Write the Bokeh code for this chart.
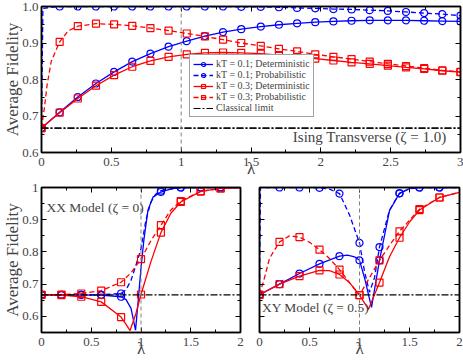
from bokeh.plotting import figure
from bokeh.layouts import column, row
from bokeh.models import (Span, Label, Legend, LegendItem, LinearAxis,
                          SingleIntervalTicker, CustomJSTickFormatter)
from bokeh.embed import file_html
from bokeh.resources import INLINE

BLUE = "#0000ff"
RED = "#ff0000"
FONT = "Liberation Serif"
CLASSICAL = 2.0 / 3.0
CRITICAL = 1.0

# ---------------- top panel: Ising transverse (zeta = 1.0) ----------------
X_TOP = [0, 0.13, 0.26, 0.39, 0.52, 0.65, 0.78, 0.91, 1.04, 1.17, 1.30, 1.43,
         1.57, 1.70, 1.83, 1.96, 2.09, 2.22, 2.35, 2.48, 2.61, 2.74, 2.87, 3.0]
TOP_DET01 = [0.667, 0.710, 0.752, 0.789, 0.821, 0.849, 0.871, 0.890, 0.905, 0.919, 0.930, 0.938,
             0.945, 0.950, 0.954, 0.957, 0.959, 0.961, 0.962, 0.962, 0.962, 0.961, 0.960, 0.959]
TOP_PROB01 = [0.667, 1.0, 1.0, 1.0, 1.0, 1.0, 1.0, 1.0, 1.0, 1.0, 1.0, 0.999,
              0.999, 0.998, 0.996, 0.995, 0.993, 0.992, 0.990, 0.988, 0.985, 0.982, 0.979, 0.975]
TOP_DET03 = [0.667, 0.709, 0.748, 0.783, 0.812, 0.835, 0.851, 0.862, 0.869, 0.873, 0.874, 0.873,
             0.871, 0.867, 0.862, 0.857, 0.852, 0.847, 0.843, 0.838, 0.833, 0.829, 0.824, 0.820]
TOP_PROB03 = [0.667, 0.903, 0.946, 0.953, 0.951, 0.947, 0.941, 0.934, 0.926, 0.918, 0.909, 0.900,
              0.892, 0.884, 0.877, 0.869, 0.862, 0.856, 0.849, 0.843, 0.837, 0.831, 0.825, 0.821]
# extra curve points read near lambda = 0 (the curves rise steeply there)
TOP_PROB01_EXTRA_X = [0.01]
TOP_PROB01_EXTRA_Y = [0.995]
TOP_PROB03_EXTRA_X = [0.02, 0.04, 0.07]
TOP_PROB03_EXTRA_Y = [0.72, 0.785, 0.85]
TOP_PROB03_EXTRA2_X = [0.19]
TOP_PROB03_EXTRA2_Y = [0.933]

# ---------------- bottom left: XX model (zeta = 0) ----------------
BL_M_X = [0, 0.2, 0.4, 0.6, 0.8, 1.2, 1.4, 1.6, 1.8]
BL_M_DET01 = [0.667, 0.667, 0.667, 0.666, 0.661, 0.986, 1.0, 1.0, 1.0]
BL_M_PROB01 = [0.667, 0.667, 0.667, 0.667, 0.671, 0.990, 1.0, 1.0, 1.0]
BL_M3_X = [0, 0.2, 0.4, 0.6, 0.8, 1.0, 1.2, 1.4, 1.6, 1.8]
BL_M_DET03 = [0.667, 0.666, 0.661, 0.645, 0.598, 0.668, 0.860, 0.955, 0.988, 0.997]
BL_M_PROB03 = [0.667, 0.668, 0.671, 0.680, 0.706, 0.778, 0.883, 0.958, 0.988, 0.997]

BL_L_DET01_X = [0, 0.6, 0.8, 0.85, 0.9, 0.93, 0.945, 0.975, 1.0, 1.03, 1.07, 1.12, 1.2, 1.3, 1.4, 2.0]
BL_L_DET01_Y = [0.667, 0.666, 0.661, 0.652, 0.625, 0.58, 0.557, 0.66, 0.75, 0.84, 0.93, 0.97, 0.986, 0.996, 1.0, 1.0]
BL_L_PROB01_X = [0, 0.6, 0.8, 0.85, 0.9, 0.95, 1.0, 1.05, 1.1, 1.15, 1.2, 1.4, 2.0]
BL_L_PROB01_Y = [0.667, 0.667, 0.671, 0.683, 0.712, 0.76, 0.81, 0.90, 0.955, 0.98, 0.99, 1.0, 1.0]
BL_L_DET03_X = [0, 0.2, 0.4, 0.6, 0.8, 0.85, 0.89, 0.95, 1.0, 1.1, 1.2, 1.3, 1.4, 1.6, 1.8, 2.0]
BL_L_DET03_Y = [0.667, 0.666, 0.661, 0.645, 0.598, 0.575, 0.556, 0.61, 0.668, 0.77, 0.86, 0.92, 0.955, 0.988, 0.997, 1.0]
BL_L_PROB03_X = [0, 0.2, 0.4, 0.6, 0.8, 0.9, 1.0, 1.1, 1.2, 1.3, 1.4, 1.6, 1.8, 2.0]
BL_L_PROB03_Y = [0.667, 0.668, 0.671, 0.680, 0.706, 0.735, 0.778, 0.835, 0.883, 0.93, 0.958, 0.988, 0.997, 1.0]

# ---------------- bottom right: XY model (zeta = 0.5) ----------------
BR_M_X = [0, 0.2, 0.4, 0.6, 0.8, 1.0, 1.2, 1.4, 1.6, 1.8]
BR_M_DET01 = [0.667, 0.700, 0.733, 0.763, 0.787, 0.774, 0.774, 0.982, 1.0, 1.0]
BR_M_PROB01 = [0.667, 1.0, 1.0, 0.999, 0.981, 0.828, 0.815, 0.982, 1.0, 1.0]
BR_M_DET03 = [0.667, 0.700, 0.725, 0.743, 0.730, 0.666, 0.705, 0.844, 0.930, 0.969]
BR_M_PROB03 = [0.667, 0.831, 0.846, 0.807, 0.745, 0.666, 0.774, 0.864, 0.933, 0.969]

BR_L_DET01_X = [0, 0.2, 0.4, 0.6, 0.8, 0.88, 0.95, 1.0, 1.05, 1.12, 1.2, 1.3, 1.4, 1.5, 1.6, 1.8, 2.0]
BR_L_DET01_Y = [0.667, 0.700, 0.733, 0.763, 0.787, 0.790, 0.785, 0.774, 0.72, 0.628, 0.774, 0.928, 0.982, 0.997, 1.0, 1.0, 1.0]
BR_L_PROB01_X = [0, 0.01, 0.2, 0.4, 0.6, 0.7, 0.8, 0.9, 1.0, 1.05, 1.1, 1.15, 1.2, 1.3, 1.4, 1.5, 1.6, 1.8, 2.0]
BR_L_PROB01_Y = [0.667, 1.0, 1.0, 1.0, 0.999, 0.995, 0.981, 0.915, 0.828, 0.74, 0.675, 0.72, 0.815, 0.93, 0.982, 0.996, 1.0, 1.0, 1.0]
BR_L_DET03_X = [0, 0.2, 0.4, 0.6, 0.7, 0.8, 0.9, 1.0, 1.09, 1.2, 1.3, 1.4, 1.5, 1.6, 1.8, 2.0]
BR_L_DET03_Y = [0.667, 0.700, 0.725, 0.743, 0.742, 0.730, 0.705, 0.666, 0.622, 0.705, 0.785, 0.844, 0.893, 0.930, 0.969, 0.985]
BR_L_PROB03_X = [0, 0.05, 0.1, 0.2, 0.3, 0.4, 0.5, 0.6, 0.7, 0.8, 0.9, 1.0, 1.1, 1.2, 1.3, 1.4, 1.6, 1.8, 2.0]
BR_L_PROB03_Y = [0.667, 0.72, 0.78, 0.831, 0.850, 0.846, 0.830, 0.807, 0.780, 0.745, 0.705, 0.666, 0.72, 0.774, 0.82, 0.864, 0.933, 0.969, 0.985]

LEGEND_LABELS = ["kT = 0.1; Deterministic", "kT = 0.1; Probabilistic",
                 "kT = 0.3; Deterministic", "kT = 0.3; Probabilistic",
                 "Classical limit"]

DASH = "5 3"
DASHDOT = "7 2 2 2"
FMT_TRIM = "return tick.toFixed(1).replace(/\\.0$/, '')"
FMT_ONE = "return tick.toFixed(1)"


def style_axis(ax, labels=True, fmt=FMT_TRIM):
    ax.major_tick_in = 5
    ax.major_tick_out = 0
    ax.minor_tick_in = 3
    ax.minor_tick_out = 0
    ax.axis_line_width = 1.5
    ax.major_tick_line_width = 1
    ax.minor_tick_line_width = 1
    ax.major_label_text_font = FONT
    ax.axis_label_text_font = FONT
    ax.axis_label_text_font_style = "normal"
    ax.axis_label_text_font_size = "17px"
    if labels:
        ax.major_label_text_font_size = "13px"
        ax.major_label_standoff = 3
        ax.axis_label_standoff = -3
        ax.formatter = CustomJSTickFormatter(code=fmt)
    else:
        ax.major_label_text_font_size = "0px"
        ax.major_label_standoff = 0
        ax.formatter = CustomJSTickFormatter(code="return ''")


def make_fig(w, h, xr, yr, xint, borders, ylabel_show, yfmt):
    p = figure(width=w, height=h, x_range=xr, y_range=yr, output_backend="svg",
               toolbar_location=None, min_border_left=borders[0], min_border_right=borders[1],
               min_border_top=borders[2], min_border_bottom=borders[3])
    p.grid.visible = False
    p.outline_line_color = "black"
    p.outline_line_width = 1.5
    p.xaxis.ticker = SingleIntervalTicker(interval=xint, num_minor_ticks=2)
    p.yaxis.ticker = SingleIntervalTicker(interval=0.1, num_minor_ticks=2)
    style_axis(p.xaxis[0])
    style_axis(p.yaxis[0], labels=ylabel_show, fmt=yfmt)
    xa = p.xaxis[0]
    xa.axis_label = "λ"
    xa.major_label_standoff = 5
    xa.axis_label_standoff = -10
    if ylabel_show:
        p.yaxis.axis_label = "Average Fidelity"
    top_ax = LinearAxis(ticker=SingleIntervalTicker(interval=xint, num_minor_ticks=2))
    right_ax = LinearAxis(ticker=SingleIntervalTicker(interval=0.1, num_minor_ticks=2))
    style_axis(top_ax, labels=False)
    style_axis(right_ax, labels=False)
    p.add_layout(top_ax, "above")
    p.add_layout(right_ax, "right")
    p.add_layout(Span(location=CLASSICAL, dimension="width", line_color="black",
                      line_dash=DASHDOT, line_width=1.2))
    p.add_layout(Span(location=CRITICAL, dimension="height", line_color="#808080",
                      line_dash="4 3", line_width=1))
    return p


def series(p, lx, ly, mx, my, color, marker, dashed):
    l = p.line(lx, ly, line_color=color, line_width=1.3,
               line_dash=DASH if dashed else "solid")
    s = p.scatter(mx, my, marker=marker, size=7, line_color=color, fill_color=None,
                  line_width=1.2)
    return l, s


# ---- top ----
top = make_fig(463, 180, (0, 3), (0.6, 1.0), 0.5, (37, 3, 6, 28), True, FMT_ONE)
r1 = series(top, X_TOP, TOP_DET01, X_TOP, TOP_DET01, BLUE, "circle", False)
r2 = series(top, X_TOP[:1] + TOP_PROB01_EXTRA_X + X_TOP[1:],
            TOP_PROB01[:1] + TOP_PROB01_EXTRA_Y + TOP_PROB01[1:],
            X_TOP, TOP_PROB01, BLUE, "circle", True)
r3 = series(top, X_TOP, TOP_DET03, X_TOP, TOP_DET03, RED, "square", False)
r4 = series(top, X_TOP[:1] + TOP_PROB03_EXTRA_X + X_TOP[1:2] + TOP_PROB03_EXTRA2_X + X_TOP[2:],
            TOP_PROB03[:1] + TOP_PROB03_EXTRA_Y + TOP_PROB03[1:2] + TOP_PROB03_EXTRA2_Y + TOP_PROB03[2:],
            X_TOP, TOP_PROB03, RED, "square", True)
r5 = top.line([X_TOP[0], X_TOP[-1]], [CLASSICAL, CLASSICAL], line_color="black",
              line_dash=DASHDOT, line_width=1.2)
legend = Legend(items=[LegendItem(label=LEGEND_LABELS[0], renderers=list(r1)),
                       LegendItem(label=LEGEND_LABELS[1], renderers=list(r2)),
                       LegendItem(label=LEGEND_LABELS[2], renderers=list(r3)),
                       LegendItem(label=LEGEND_LABELS[3], renderers=list(r4)),
                       LegendItem(label=LEGEND_LABELS[4], renderers=[r5])],
                location=(148, 35), label_text_font=FONT, label_text_font_size="10px",
                glyph_width=20, glyph_height=10, label_height=10, spacing=0, padding=3,
                margin=0, label_standoff=3, border_line_color="#444444", border_line_width=1,
                background_fill_alpha=1)
top.add_layout(legend)
top.add_layout(Label(x=2.90, y=0.642, text="Ising Transverse (ζ = 1.0)", text_align="right",
                     text_baseline="middle", text_font=FONT, text_font_size="15px"))

# ---- bottom left ----
bl = make_fig(250, 181, (0, 2), (0.55, 1.0), 0.5, (38, 10, 7, 29), True, FMT_TRIM)
series(bl, BL_L_DET01_X, BL_L_DET01_Y, BL_M_X, BL_M_DET01, BLUE, "circle", False)
series(bl, BL_L_PROB01_X, BL_L_PROB01_Y, BL_M_X, BL_M_PROB01, BLUE, "circle", True)
series(bl, BL_L_DET03_X, BL_L_DET03_Y, BL_M3_X, BL_M_DET03, RED, "square", False)
series(bl, BL_L_PROB03_X, BL_L_PROB03_Y, BL_M3_X, BL_M_PROB03, RED, "square", True)
bl.add_layout(Label(x=0.05, y=0.938, text="XX Model (ζ = 0)", text_align="left",
                    text_baseline="middle", text_font=FONT, text_font_size="13.5px"))

# ---- bottom right ----
br = make_fig(213, 181, (0, 2), (0.55, 1.0), 0.5, (9, 4, 7, 29), False, FMT_TRIM)
series(br, BR_L_DET01_X, BR_L_DET01_Y, BR_M_X, BR_M_DET01, BLUE, "circle", False)
series(br, BR_L_PROB01_X, BR_L_PROB01_Y, BR_M_X, BR_M_PROB01, BLUE, "circle", True)
series(br, BR_L_DET03_X, BR_L_DET03_Y, BR_M_X, BR_M_DET03, RED, "square", False)
series(br, BR_L_PROB03_X, BR_L_PROB03_Y, BR_M_X, BR_M_PROB03, RED, "square", True)
br.add_layout(Label(x=0.024, y=0.627, text="XY Model (ζ = 0.5)", text_align="left",
                    text_baseline="middle", text_font=FONT, text_font_size="13.5px"))

layout = column(top, row(bl, br, spacing=0), spacing=0)

open("out.html", "w").write(file_html(layout, INLINE))
